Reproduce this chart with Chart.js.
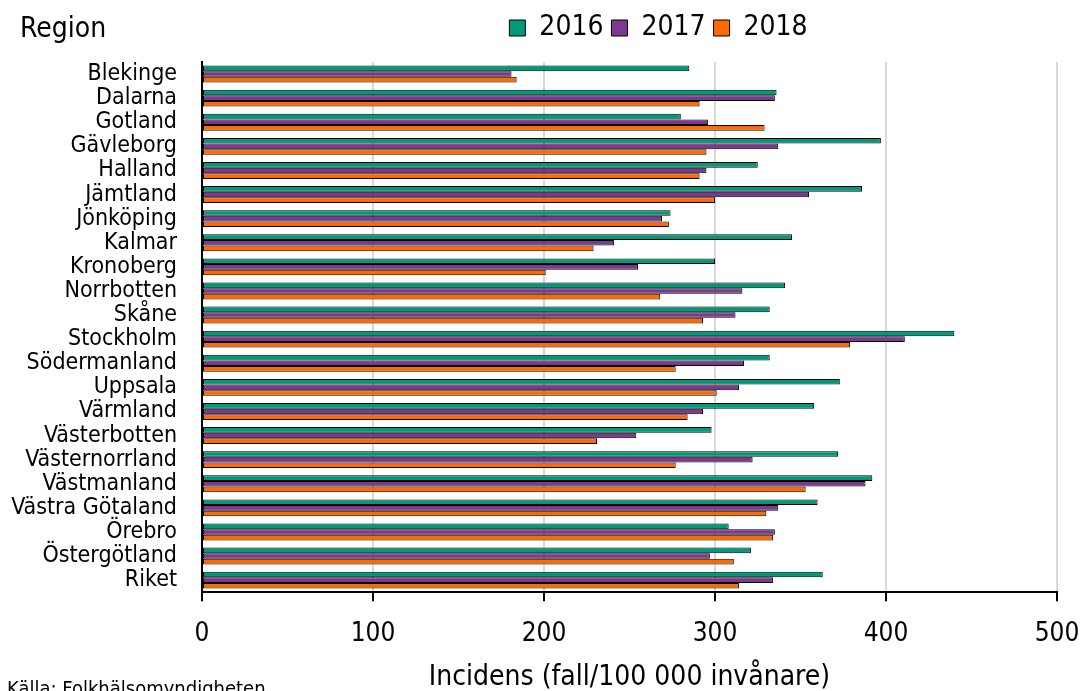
<!DOCTYPE html>
<html>
<head>
<meta charset="utf-8">
<script src="https://cdn.jsdelivr.net/npm/chart.js@4/dist/chart.umd.min.js"></script>
<style>
  html, body { margin: 0; padding: 0; background: #fff; overflow: hidden; }
  #wrap { position: relative; width: 1090px; height: 691px; overflow: hidden; }
  .lbl { position: absolute; font-family: 'DejaVu Sans Condensed', 'DejaVu Sans', sans-serif; color: #000; line-height: 1; white-space: nowrap; }
</style>
</head>
<body>
<div id="wrap">
  <canvas id="chart" width="1090" height="691"></canvas>
  <div class="lbl" style="left:20px; top:14px; font-size:28px;">Region</div>
  <div class="lbl" style="left:7px; top:678px; font-size:20px;">Källa: Folkhälsomyndigheten</div>
</div>
<script>
const regions = ['Blekinge', 'Dalarna', 'Gotland', 'Gävleborg', 'Halland', 'Jämtland', 'Jönköping', 'Kalmar',
  'Kronoberg', 'Norrbotten', 'Skåne', 'Stockholm', 'Södermanland', 'Uppsala', 'Värmland', 'Västerbotten',
  'Västernorrland', 'Västmanland', 'Västra Götaland', 'Örebro', 'Östergötland', 'Riket'];

const years = ['2016', '2017', '2018'];

const values2016 = [285, 336, 280, 397, 325, 386, 274, 345, 300, 341, 332, 440, 332, 373, 358, 298, 372, 392, 360, 308, 321, 363];
const values2017 = [181, 335, 296, 337, 295, 355, 269, 241, 255, 316, 312, 411, 317, 314, 293, 254, 322, 388, 337, 335, 297, 334];
const values2018 = [184, 291, 329, 295, 291, 300, 273, 229, 201, 268, 293, 379, 277, 301, 284, 231, 277, 353, 330, 334, 311, 314];

const xTicks = [0, 100, 200, 300, 400, 500];

const colors = ['#009a7a', '#7d3990', '#ff6a00'];
const fontFamily = "'DejaVu Sans Condensed', 'DejaVu Sans', sans-serif";

// legend sits a bit right of the plot centre and leaves room below it
const legendTweak = {
  id: 'legendTweak',
  beforeInit(chart) {
    const fit = chart.legend.fit;
    chart.legend.fit = function () {
      fit.call(this);
      this.height += 10;
    };
  },
  afterLayout(chart) {
    chart.legend.left += 29;
    chart.legend.right += 29;
  },
};

const ctx = document.getElementById('chart').getContext('2d');

new Chart(ctx, {
  type: 'bar',
  data: {
    labels: regions,
    datasets: [values2016, values2017, values2018].map((vals, i) => ({
      label: years[i],
      data: vals,
      backgroundColor: colors[i],
      borderColor: '#000',
      borderWidth: 1,
      borderSkipped: false,
      categoryPercentage: 0.7,
      barPercentage: 1.0,
    })),
  },
  plugins: [legendTweak],
  options: {
    indexAxis: 'y',
    responsive: false,
    animation: false,
    layout: { padding: { top: 6, right: 0, bottom: -4, left: 0 } },
    plugins: {
      tooltip: { enabled: false },
      legend: {
        position: 'top',
        align: 'center',
        fullSize: false,
        labels: {
          font: { family: fontFamily, size: 28 },
          color: '#000',
          boxWidth: 16,
          boxHeight: 16,
          padding: 8,
        },
      },
    },
    scales: {
      x: {
        min: 0,
        max: 500,
        afterBuildTicks: (axis) => { axis.ticks = xTicks.map((v) => ({ value: v })); },
        afterFit: (scale) => { scale.paddingRight = 33; },
        grid: {
          color: (c) => (c.tick && c.tick.value === 0 ? '#000' : '#d9d9d9'),
          lineWidth: 2,
          drawTicks: true,
          tickLength: 9,
          tickColor: '#000',
          tickWidth: 2,
        },
        border: { display: true, color: '#000', width: 2 },
        ticks: {
          color: '#000',
          font: { family: fontFamily, size: 26 },
          padding: 17,
          maxRotation: 0,
        },
        title: {
          display: true,
          text: 'Incidens (fall/100 000 invånare)',
          color: '#000',
          font: { family: fontFamily, size: 28 },
          padding: { top: -5, bottom: 0 },
        },
      },
      y: {
        afterFit: (scale) => { scale.width = 202; },
        grid: { display: false, drawTicks: false },
        border: { display: true, color: '#000', width: 2 },
        ticks: {
          color: '#000',
          font: { family: fontFamily, size: 23 },
          padding: 25,
          autoSkip: false,
        },
      },
    },
  },
});
</script>
</body>
</html>
